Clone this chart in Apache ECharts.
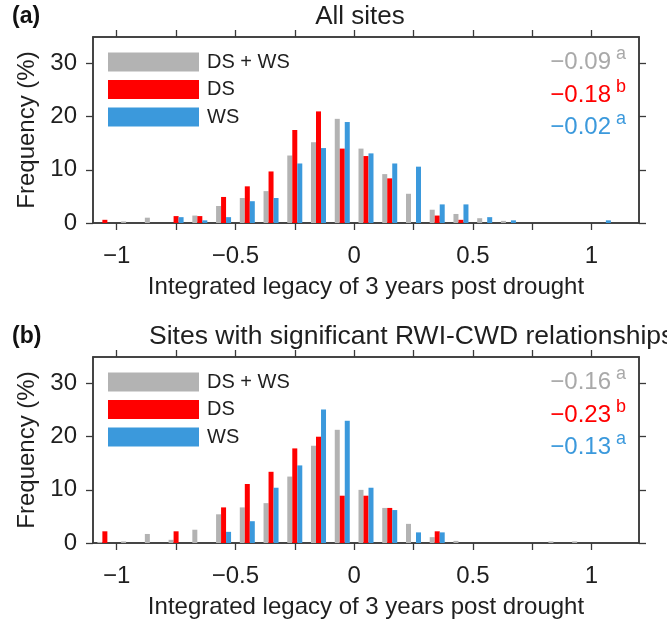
<!DOCTYPE html>
<html>
<head>
<meta charset="utf-8">
<script src="https://cdn.jsdelivr.net/npm/echarts@6/dist/echarts.min.js"></script>
<style>
html,body{margin:0;padding:0;background:#fff;}
#chart{width:667px;height:620px;}
</style>
</head>
<body>
<div id="chart"></div>
<script>
// ---------- data ----------
const binCenters = [-1.05,-0.95,-0.85,-0.75,-0.65,-0.55,-0.45,-0.35,-0.25,-0.15,-0.05,0.05,0.15,0.25,0.35,0.45,0.55,0.65,0.75,0.85,0.95,1.05,1.15];
const seriesNames = ['DS + WS','DS','WS'];

const allSitesDSWS = [0,0.3,1.0,0,1.4,3.2,4.7,6.0,12.7,15.2,19.6,14.0,9.2,5.5,2.5,1.7,0.9,0.4,0,0,0,0,0];
const allSitesDS   = [0.6,0,0,1.3,1.3,4.9,6.9,9.7,17.5,21.0,14.0,12.6,8.4,0,1.4,0.6,0,0,0,0,0,0,0];
const allSitesWS   = [0,0,0,1.1,0.5,1.1,4.1,4.7,11.2,14.1,19.0,13.1,11.2,10.6,3.5,3.5,1.1,0.5,0,0,0,0.5,0];

const sigDSWS = [0.2,0.3,1.7,0.6,2.5,5.4,6.7,7.5,12.5,18.3,21.3,10.0,6.6,3.6,1.1,0.4,0,0,0,0.3,0.3,0,0];
const sigDS   = [2.2,0,0,2.2,0,6.7,11.1,13.4,17.8,20.0,8.9,8.9,6.6,0,2.2,0,0,0,0,0,0,0,0];
const sigWS   = [0,0,0,0,0,2.1,4.1,10.4,14.6,25.1,23.0,10.4,6.2,2.0,2.0,0,0,0,0,0,0,0,0];

const allSitesMeans = ['\u22120.09','\u22120.18','\u22120.02'];
const sigMeans      = ['\u22120.16','\u22120.23','\u22120.13'];
const meanLetters   = ['a','b','a'];

const xTickValues  = [-1,-0.75,-0.5,-0.25,0,0.25,0.5,0.75,1];
const xLabelValues = [-1,-0.5,0,0.5,1];
const yTickValues  = [0,10,20,30];

const panelTitles = ['All sites','Sites with significant RWI-CWD relationships'];
const panelLetters = ['(a)','(b)'];
const xAxisName = 'Integrated legacy of 3 years post drought';
const yAxisName = 'Frequency (%)';

// ---------- style ----------
const FONT = 'Liberation Sans, Arial, Helvetica, sans-serif';
const colors = ['#b3b3b3','#ff0000','#3b99dc'];
const textColors = ['#a9a9a9','#ff0000','#3b99dc'];
const axisColor = '#3a3a3a';
const txt = '#1f1f1f';

const panelTops = [37, 357];
const gridLeft = 93, gridWidth = 546, gridHeight = 186;

const chart = echarts.init(document.getElementById('chart'), null, {renderer:'canvas'});

const grids = [], xAxes = [], yAxes = [], series = [], legends = [], graphics = [];
const panelData = [[allSitesDSWS, allSitesDS, allSitesWS],[sigDSWS, sigDS, sigWS]];
const panelMeans = [allSitesMeans, sigMeans];

function fmt(v){ return String(v).replace('-', '\u2212'); }

panelTops.forEach((top, p) => {
  grids.push({left: gridLeft, top: top, width: gridWidth, height: gridHeight,
    show: true, borderColor: axisColor, borderWidth: 1.5, backgroundColor: 'transparent'});
  const mkX = (pos) => ({
    gridIndex: p, type: 'value', min: -1.1, max: 1.2, position: pos,
    axisLine: {show: true, onZero: false, lineStyle: {color: axisColor, width: 1.5}},
    axisTick: {show: true, inside: false, length: 7, customValues: xTickValues, lineStyle: {color: axisColor, width: 1.3}},
    splitLine: {show: false}
  });
  const xb = mkX('bottom');
  xb.axisLabel = {show: true, customValues: xLabelValues, formatter: fmt, fontSize: 24, fontFamily: FONT, color: txt, margin: 21};
  xb.name = xAxisName; xb.nameLocation = 'middle'; xb.nameGap = 52;
  xb.nameTextStyle = {fontSize: 24, fontFamily: FONT, color: txt};
  const xt = mkX('top');
  xt.axisLabel = {show: false};
  xAxes.push(xb, xt);

  const mkY = (pos) => ({
    gridIndex: p, type: 'value', min: 0, max: 35, position: pos,
    axisLine: {show: true, onZero: false, lineStyle: {color: axisColor, width: 1.5}},
    axisTick: {show: true, inside: false, length: 7, customValues: yTickValues, lineStyle: {color: axisColor, width: 1.3}},
    splitLine: {show: false}
  });
  const yl = mkY('left');
  yl.axisLabel = {show: true, customValues: yTickValues, fontSize: 24, fontFamily: FONT, color: txt, margin: 16};
  yl.name = yAxisName; yl.nameLocation = 'middle'; yl.nameGap = 50;
  yl.nameTextStyle = {fontSize: 24, fontFamily: FONT, color: txt};
  const yr = mkY('right');
  yr.axisLabel = {show: false};
  yAxes.push(yl, yr);

  panelData[p].forEach((vals, s) => {
    series.push({
      name: seriesNames[s], type: 'bar',
      xAxisIndex: p*2, yAxisIndex: p*2,
      barWidth: 5, barGap: '0%',
      itemStyle: {color: colors[s]},
      emphasis: {disabled: true},
      data: binCenters.map((c, i) => [c, vals[i]])
    });
  });

  legends.push({
    orient: 'vertical', left: 108, top: top + 15, padding: 0,
    itemWidth: 91, itemHeight: 19, itemGap: 7.5,
    icon: 'rect', selectedMode: false,
    data: seriesNames,
    textStyle: {fontSize: 20, fontFamily: FONT, color: txt, lineHeight: 19, padding: [0,0,0,3]}
  });

  // panel letter
  graphics.push({type: 'text', left: 12, top: top - 32, style: {text: panelLetters[p], font: 'bold 23px ' + FONT, fill: '#111'}});
  // panel title
  if (p === 0) {
    graphics.push({type: 'text', x: 360, y: top - 20, style: {text: panelTitles[p], font: '26px ' + FONT, fill: txt, align: 'center', verticalAlign: 'middle'}});
  } else {
    graphics.push({type: 'text', x: 149, y: top - 20, style: {text: panelTitles[p], font: '26.5px ' + FONT, fill: txt, align: 'left', verticalAlign: 'middle'}});
  }
  // means
  const means = panelMeans[p];
  const ys = [top + 25, top + 58, top + 90];
  means.forEach((m, k) => {
    graphics.push({type: 'text', x: 611, y: ys[k], style: {text: m, font: '24px ' + FONT, fill: textColors[k], align: 'right', verticalAlign: 'middle'}});
    graphics.push({type: 'text', x: 616, y: ys[k] - 8, style: {text: meanLetters[k], font: '18px ' + FONT, fill: textColors[k], align: 'left', verticalAlign: 'middle'}});
  });
});

chart.setOption({
  animation: false,
  backgroundColor: '#ffffff',
  textStyle: {fontFamily: FONT},
  grid: grids, xAxis: xAxes, yAxis: yAxes, series: series, legend: legends, graphic: graphics
});
</script>
</body>
</html>
